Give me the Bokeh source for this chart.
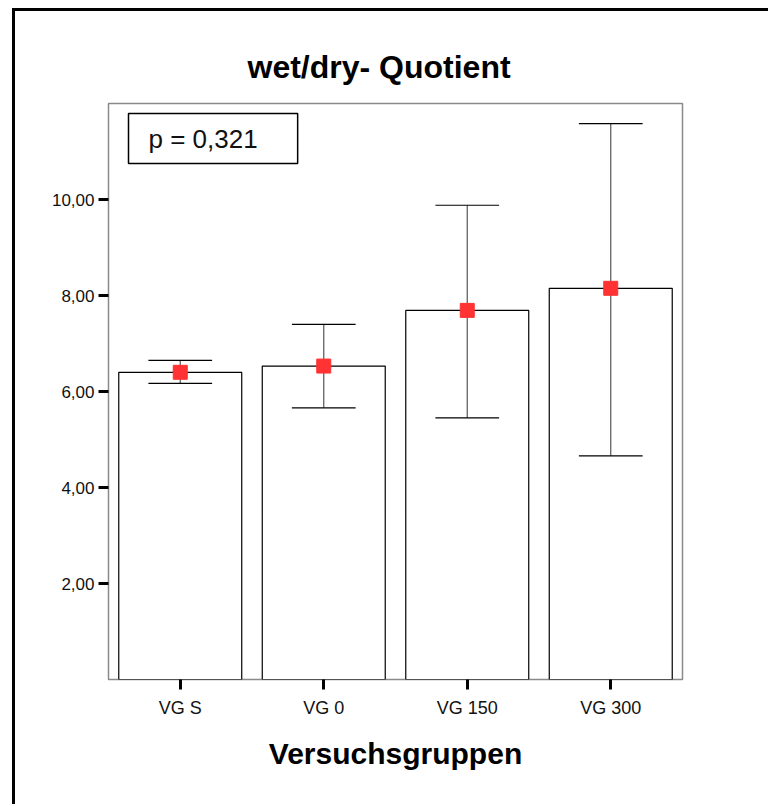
from bokeh.plotting import figure
from bokeh.models import (ColumnDataSource, FactorRange, Range1d, FixedTicker, Label, Title)
from bokeh.transform import dodge
from bokeh.embed import file_html
from bokeh.resources import INLINE

# ---- data ----
groups = ["VG S", "VG 0", "VG 150", "VG 300"]
means = [6.40, 6.53, 7.69, 8.15]
upper = [6.65, 7.40, 9.88, 11.58]
lower = [6.17, 5.66, 5.45, 4.66]
y_ticks = [2, 4, 6, 8, 10]
y_tick_labels = ["2,00", "4,00", "6,00", "8,00", "10,00"]
title_text = "wet/dry- Quotient"
x_title = "Versuchsgruppen"
p_text = "p = 0,321"

FONT = "Liberation Sans"
OFF_X, OFF_Y = 15, 11   # page offset of the canvas (outer frame lines)
FL = 108                # frame left in page pixels

src = ColumnDataSource(dict(g=groups, m=means, up=upper, lo=lower))

p = figure(width=771 - OFF_X, height=807 - OFF_Y, x_range=FactorRange(*groups),
           y_range=Range1d(0, 12),
           output_backend="svg", toolbar_location=None, title=None,
           min_border_left=FL - OFF_X, min_border_right=89,
           min_border_top=103 - OFF_Y, min_border_bottom=128)
p.styles = {"margin-left": "15px", "margin-top": "11px",
            "box-shadow": "-3px -3px 0px 0px black"}
p.background_fill_color = "white"
p.border_fill_color = "white"
p.outline_line_color = "#8a8a8a"
p.outline_line_width = 1.5
p.grid.visible = False
p.x_range.range_padding = 0
p.x_range.group_padding = 0

# pixel-like y range (page y from top) for in-frame annotations
p.extra_y_ranges = {"py": Range1d(679, 103)}

p.vbar(x="g", top="m", width=0.857, source=src, fill_color="white",
       line_color="black", line_width=1.2)

# error bars
p.segment(x0="g", x1="g", y0="lo", y1="up", source=src, line_color="#555555", line_width=1.2)
p.segment(x0=dodge("g", -0.222, range=p.x_range), x1=dodge("g", 0.222, range=p.x_range),
          y0="up", y1="up", source=src, line_color="black", line_width=1.2)
p.segment(x0=dodge("g", -0.222, range=p.x_range), x1=dodge("g", 0.222, range=p.x_range),
          y0="lo", y1="lo", source=src, line_color="black", line_width=1.2)

p.scatter(x="g", y="m", source=src, marker="square", size=14,
          fill_color="#ff3333", line_color="#ff3333")

# axes
for ax in (p.xaxis[0], p.yaxis[0]):
    ax.axis_line_color = None
    ax.major_tick_in = 0
    ax.major_tick_out = 10
    ax.major_tick_line_width = 3
    ax.major_tick_line_color = "black"
    ax.minor_tick_line_color = None
    ax.major_label_text_font = FONT
    ax.major_label_text_color = "#111111"

p.yaxis.major_label_text_font_size = "17px"
p.xaxis.major_label_text_font_size = "18px"
p.yaxis.ticker = FixedTicker(ticks=y_ticks)
p.yaxis.major_label_overrides = {t: l for t, l in zip(y_ticks, y_tick_labels)}
p.yaxis.major_label_standoff = 4
p.xaxis.major_label_standoff = 8

p.xaxis.axis_label = x_title
p.xaxis.axis_label_text_font = FONT
p.xaxis.axis_label_text_font_size = "30px"
p.xaxis.axis_label_text_font_style = "bold"
p.xaxis.axis_label_text_color = "black"
p.xaxis.axis_label_standoff = 16

p.add_layout(Title(text=title_text, align="left", offset=247 - FL, standoff=38,
                   text_font=FONT, text_font_size="32px", text_font_style="bold",
                   text_color="black"), "above")

# p-value box
p.add_layout(Label(x=128 - FL, y=138, text=p_text, x_units="screen", y_range_name="py",
                   text_align="left", text_baseline="middle",
                   text_font=FONT, text_font_size="26px", text_color="#111111",
                   border_line_color="black", border_line_width=1.5,
                   background_fill_color="white",
                   padding=dict(left=20, right=40, top=10, bottom=10)))

open("out.html", "w").write(file_html(p, INLINE))
